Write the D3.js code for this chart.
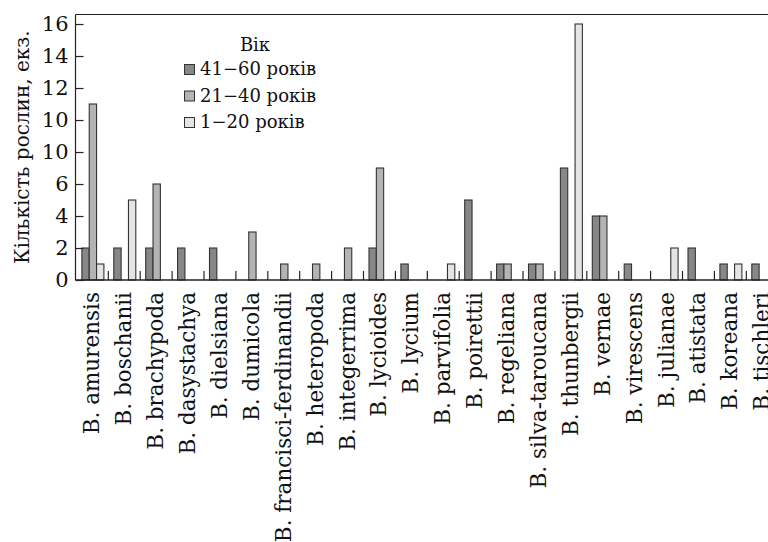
<!DOCTYPE html>
<html>

<head>
    <script src="https://d3js.org/d3.v7.min.js"></script>
    <style>
        body {
            margin: 0;
            background: #fff;
        }

        text {
            font-family: "DejaVu Serif", "Liberation Serif", serif;
            fill: #111;
        }

        .bar {
            stroke: #333;
            stroke-width: 1.1px;
        }

        .axis path,
        .axis line {
            stroke: #222;
            stroke-width: 1.2px;
        }
    </style>
</head>

<body>
    <div id="chart"></div>

    <script>
        // Species along the x axis
        const species = [
            "B. amurensis", "B. boschanii", "B. brachypoda", "B. dasystachya",
            "B. dielsiana", "B. dumicola", "B. francisci-ferdinandii", "B. heteropoda",
            "B. integerrima", "B. lycioides", "B. lycium", "B. parvifolia",
            "B. poirettii", "B. regeliana", "B. silva-taroucana", "B. thunbergii",
            "B. vernae", "B. virescens", "B. julianae", "B. atistata",
            "B. koreana", "B. tischleri"
        ];

        // Age groups (legend order)
        const ageGroups = ["41−60 років", "21−40 років", "1−20 років"];

        // Number of plants per age group
        const age41to60 = [2, 2, 2, 2, 2, 0, 0, 0, 0, 2, 1, 0, 5, 1, 1, 7, 4, 1, 0, 2, 1, 1];
        const age21to40 = [11, 0, 6, 0, 0, 3, 1, 1, 2, 7, 0, 0, 0, 1, 1, 0, 4, 0, 0, 0, 0, 0];
        const age1to20 = [1, 5, 0, 0, 0, 0, 0, 0, 0, 0, 0, 1, 0, 0, 0, 16, 0, 0, 2, 0, 1, 0];

        // Y tick values and the labels printed next to them
        const yTickValues = [0, 2, 4, 6, 8, 10, 12, 14, 16];
        const yTickLabels = ["0", "2", "4", "6", "10", "10", "12", "14", "16"];

        const colors = ["#878787", "#b4b4b4", "#e4e4e4"];

        const width = 768;
        const height = 542;
        const marginLeft = 75.5;
        const marginTop = 14.5;
        const baseline = 280;
        const step = 31.9;

        const seriesValues = [age41to60, age21to40, age1to20];
        const rows = species.map((name, i) => ({
            name: name,
            values: ageGroups.map((g, j) => ({ group: g, index: j, value: seriesValues[j][i] }))
        }));

        const svg = d3.select('#chart').append('svg')
            .attr('width', width)
            .attr('height', height);

        const x = d3.scaleBand()
            .domain(species)
            .range([marginLeft + 0.9, marginLeft + 0.9 + step * species.length]);

        const xInner = d3.scaleBand()
            .domain(ageGroups)
            .range([5.5, 27.5]);

        const y = d3.scaleLinear()
            .domain([0, 16])
            .range([baseline, 24]);

        // Frame: top border runs off the right edge
        svg.append('line')
            .attr('x1', marginLeft).attr('x2', width)
            .attr('y1', marginTop).attr('y2', marginTop)
            .attr('stroke', '#222')
            .attr('stroke-width', 1.2);

        // Bars
        const group = svg.selectAll('.group')
            .data(rows)
            .enter().append('g')
            .attr('class', 'group')
            .attr('transform', d => `translate(${x(d.name)},0)`);

        group.selectAll('rect')
            .data(d => d.values.filter(v => v.value > 0))
            .enter().append('rect')
            .attr('class', 'bar')
            .attr('x', d => xInner(d.group))
            .attr('width', xInner.bandwidth())
            .attr('y', d => y(d.value))
            .attr('height', d => y(0) - y(d.value))
            .attr('fill', d => colors[d.index]);

        // Small separators between species
        svg.selectAll('.sep')
            .data(species.slice(1))
            .enter().append('line')
            .attr('class', 'sep')
            .attr('x1', d => x(d)).attr('x2', d => x(d))
            .attr('y1', baseline).attr('y2', baseline - 9)
            .attr('stroke', '#222')
            .attr('stroke-width', 1.2);

        // X axis line
        svg.append('line')
            .attr('x1', marginLeft).attr('x2', width)
            .attr('y1', baseline).attr('y2', baseline)
            .attr('stroke', '#222')
            .attr('stroke-width', 1.4);

        // Y axis, ticks point inwards
        const yAxis = svg.append('g')
            .attr('class', 'axis')
            .attr('transform', `translate(${marginLeft},0)`)
            .call(d3.axisLeft(y)
                .tickValues(yTickValues)
                .tickFormat((d, i) => yTickLabels[i])
                .tickSizeInner(-8)
                .tickSizeOuter(0)
                .tickPadding(7));

        yAxis.select('.domain').attr('d', `M0,${marginTop}V${baseline}`);
        yAxis.selectAll('text')
            .style('font-family', '"DejaVu Serif", serif')
            .style('font-size', '21px')
            .attr('fill', '#111');

        // Species labels, rotated
        svg.selectAll('.xlabel')
            .data(species)
            .enter().append('text')
            .attr('class', 'xlabel')
            .attr('transform', d => `translate(${x(d) + x.bandwidth() / 2 - 0.5},292) rotate(-90)`)
            .attr('dy', '0.35em')
            .style('text-anchor', 'end')
            .style('font-size', '21.5px')
            .text(d => d);

        // Y axis title
        svg.append('text')
            .attr('transform', `translate(22,${(marginTop + baseline) / 2 + 0}) rotate(-90)`)
            .attr('dy', '0.35em')
            .style('text-anchor', 'middle')
            .style('font-size', '20px')
            .text('Кількість рослин, екз.');

        // Legend
        const legend = svg.append('g')
            .attr('transform', 'translate(184,0)');

        legend.append('text')
            .attr('x', 71)
            .attr('y', 51)
            .style('text-anchor', 'middle')
            .style('font-size', '18px')
            .text('Вік');

        const item = legend.selectAll('.item')
            .data(ageGroups)
            .enter().append('g')
            .attr('class', 'item')
            .attr('transform', (d, i) => `translate(0,${75 + i * 26.5})`);

        item.append('rect')
            .attr('x', 0.5)
            .attr('y', -10.5)
            .attr('width', 10)
            .attr('height', 10)
            .attr('fill', (d, i) => colors[i])
            .attr('stroke', '#333');

        item.append('text')
            .attr('x', 16)
            .attr('y', 0)
            .style('font-size', '18px')
            .text(d => d);
    </script>
</body>

</html>
